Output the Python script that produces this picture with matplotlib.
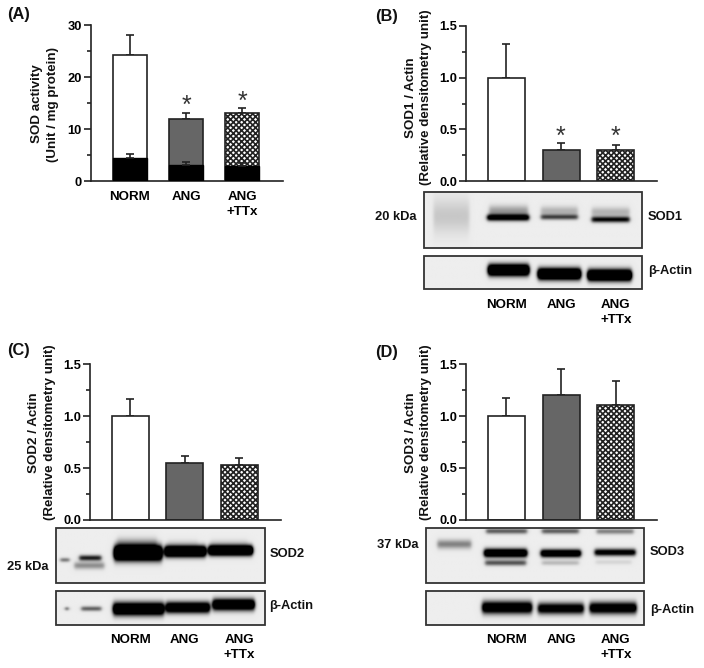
import numpy as np
import matplotlib
matplotlib.use("Agg")
import matplotlib.pyplot as plt
from matplotlib.patches import Rectangle
from matplotlib.ticker import MultipleLocator

plt.rcParams['font.family'] = ['Liberation Sans', 'DejaVu Sans']
plt.rcParams['font.weight'] = 'bold'
plt.rcParams['hatch.linewidth'] = 1.2

W, H = 704, 668
DARK = '#222222'

# ======================================
# DATA
# ======================================

groups = ['NORM', 'ANG', 'ANG\n+TTx']

sod_total = [24.3, 12.0, 13.0]
sod_total_top = [28.0, 13.0, 14.0]
sod_black = [4.5, 3.1, 2.9]
sod_black_top = [5.2, 3.6, 3.4]

sod1 = [1.0, 0.30, 0.30]
sod1_top = [1.32, 0.37, 0.35]
sod2 = [1.0, 0.55, 0.53]
sod2_top = [1.17, 0.62, 0.60]
sod3 = [1.0, 1.20, 1.11]
sod3_top = [1.17, 1.45, 1.34]

# blot bands, figure pixels: x0, x1, y, sigma, density
sod1_bands = [
    (433, 469, 216, 12, 0.16), (487, 529, 217.5, 2.3, 1.3), (489, 528, 211, 4, 0.35),
    (541, 578, 217, 1.9, 0.7), (541, 578, 211, 3.5, 0.25),
    (592, 630, 219.5, 2.1, 1.0), (592, 630, 212, 3.5, 0.25),
]
actin_b_bands = [
    (488, 529, 270, 4.0, 2.2), (538, 581, 274, 4.0, 2.2), (588, 632, 275.3, 4.0, 2.2),
]
sod2_bands = [
    (60, 69, 560, 1.5, 0.5), (79, 101, 558, 2.0, 0.9), (74, 104, 565.7, 2.6, 0.4),
    (114, 162, 553, 5.0, 2.6), (117, 157, 544, 4.5, 0.3),
    (165, 206, 551.3, 3.7, 2.4), (168, 198, 543, 3, 0.08),
    (209, 253, 550.3, 3.4, 2.4), (211, 248, 543, 3, 0.1),
]
actin_c_bands = [
    (65, 68, 608.7, 1.3, 0.7), (81, 101, 608.7, 1.7, 0.6),
    (113, 164, 609, 4.5, 1.9), (166, 210, 607.5, 3.9, 1.7), (213, 255, 604.5, 4.0, 1.8),
]
sod3_bands = [
    (437, 471, 544, 3.2, 0.45), (486, 527, 530.7, 2.0, 0.6), (542, 579, 530.7, 2.0, 0.6),
    (597, 634, 531, 2.0, 0.45),
    (484, 527, 553, 3.0, 1.7), (541, 581, 553.3, 2.7, 1.6), (595, 636, 552.3, 2.5, 1.2),
    (485, 526, 563, 2.0, 0.65), (542, 579, 563, 1.7, 0.22), (596, 632, 562.3, 1.7, 0.1),
]
actin_d_bands = [
    (482, 532, 607.5, 4.4, 1.5), (538, 584, 608.5, 4.0, 1.3), (590, 637, 608, 4.2, 1.4),
]


def px_axes(left, right, top, bottom):
    return fig.add_axes([left / W, 1 - bottom / H, (right - left) / W, (bottom - top) / H])


def draw_blot(left, right, top, bottom, bands):
    xs = np.arange(left, right + 1)
    ys = np.arange(top, bottom + 1)
    xx, yy = np.meshgrid(xs, ys)
    density = np.zeros(xx.shape)
    for x0, x1, yc, sigma, dens in bands:
        along = 0.5 * (np.tanh((xx - x0) / 2.0) - np.tanh((xx - x1) / 2.0))
        density += dens * along * np.exp(-((yy - yc) / sigma) ** 2 / 2)
    img = 0.93 * (1 - np.clip(density, 0, 1))
    bg.imshow(img, cmap='gray', vmin=0, vmax=1, extent=(left, right, bottom, top),
              aspect='auto', interpolation='bilinear')
    bg.add_patch(Rectangle((left, top), right - left, bottom - top, fill=False,
                           edgecolor='#333333', linewidth=1.3))


def draw_panel(box, values, tops, ymax, major, minor, centers, width, label_pad):
    ax = px_axes(*box)
    ax.patch.set_visible(False)
    spacing = centers[1] - centers[0]
    x = np.arange(3)
    ax.set_xlim((box[0] - centers[0]) / spacing, (box[1] - centers[0]) / spacing)
    ax.set_ylim(0, ymax)
    fills = ['white', '#666666', 'white']
    hatches = [None, None, 'xxxxxx']
    for i in x:
        ax.errorbar(i, values[i], yerr=[[0], [tops[i] - values[i]]], color=DARK,
                    elinewidth=1.2, capsize=2.7, capthick=1.2, zorder=1)
    ax.bar(x, values, width=width / spacing, color=fills, edgecolor=DARK, linewidth=1.2,
           hatch=hatches, zorder=2)
    for side in ['top', 'right']:
        ax.spines[side].set_visible(False)
    for side in ['left', 'bottom']:
        ax.spines[side].set_linewidth(1.2)
        ax.spines[side].set_color(DARK)
    ax.yaxis.set_major_locator(MultipleLocator(major))
    ax.yaxis.set_minor_locator(MultipleLocator(minor))
    ax.tick_params(axis='y', which='major', length=4.8, width=1.2, color=DARK, labelsize=9.3, pad=1.5)
    ax.tick_params(axis='y', which='minor', length=3.2, width=1.2, color=DARK)
    ax.set_xticks(x, groups, fontsize=9.6, linespacing=1.33)
    ax.tick_params(axis='x', length=0, pad=label_pad)
    return ax


fig = plt.figure(figsize=(W / 100, H / 100), dpi=100)
bg = fig.add_axes([0, 0, 1, 1])
bg.axis('off')

# ======================================
# BLOTS
# ======================================

draw_blot(424, 642, 192, 248, sod1_bands)
draw_blot(424, 642, 256, 289, actin_b_bands)
draw_blot(56, 265, 528, 583, sod2_bands)
draw_blot(56, 265, 591, 625, actin_c_bands)
draw_blot(426, 644, 528, 583, sod3_bands)
draw_blot(426, 644, 591, 625, actin_d_bands)

bg.set_xlim(0, W)
bg.set_ylim(H, 0)

# ======================================
# BAR PANELS
# ======================================

ax_a = draw_panel((90.7, 282.7, 25, 181), sod_total, sod_total_top, 30, 10, 5,
                  [129.7, 186, 242.7], 34, 7.5)
ax_a.bar(np.arange(3), sod_black, width=34 / 56.5, color='black', edgecolor='black',
         linewidth=1.0, zorder=3)
for i in range(3):
    ax_a.errorbar(i, sod_black[i], yerr=[[0], [sod_black_top[i] - sod_black[i]]], color=DARK,
                  elinewidth=1.2, capsize=2.7, capthick=1.2, zorder=4)

draw_panel((465.7, 657.3, 25.7, 181.3), sod1, sod1_top, 1.5, 0.5, 0.25,
           [506.2, 561, 616], 37, 85)
draw_panel((90, 281, 364.3, 520), sod2, sod2_top, 1.5, 0.5, 0.25,
           [130.2, 184.8, 239.6], 37, 82)
draw_panel((465.7, 657.3, 364.3, 519.7), sod3, sod3_top, 1.5, 0.5, 0.25,
           [506.2, 561, 616], 37, 82)

# ======================================
# TEXT
# ======================================

panel_letters = [('(A)', 7, 15), ('(B)', 375, 17), ('(C)', 7, 350), ('(D)', 375, 352)]
for txt, tx, ty in panel_letters:
    bg.text(tx, ty, txt, fontsize=11.8, ha='left', va='center', color='#111111')

y_titles = [
    ('SOD activity\n(Unit / mg protein)', 45, 104),
    ('SOD1 / Actin\n(Relative densitometry unit)', 418.5, 97.5),
    ('SOD2 / Actin\n(Relative densitometry unit)', 42, 432.5),
    ('SOD3 / Actin\n(Relative densitometry unit)', 418.5, 432.5),
]
for txt, tx, ty in y_titles:
    bg.text(tx, ty, txt, fontsize=9.6, rotation=90, ha='center', va='center',
            multialignment='center', linespacing=1.35, color='#111111')

blot_labels = [
    ('20 kDa', 375, 216.7), ('SOD1', 648, 216.7), ('\u03b2-Actin', 648, 270.7),
    ('25 kDa', 7.3, 567.3), ('SOD2', 270, 554), ('\u03b2-Actin', 269, 605.7),
    ('37 kDa', 377.3, 545), ('SOD3', 650, 551.7), ('\u03b2-Actin', 650, 610),
]
for txt, tx, ty in blot_labels:
    bg.text(tx, ty, txt, fontsize=9.3, ha='left', va='center', color='#111111')

stars = [(186.7, 100), (242, 96.7), (560.7, 131.7), (615.3, 131.7)]
for tx, ty in stars:
    bg.text(tx, ty + 5.5, '*', fontsize=18, fontweight='normal', ha='center', va='center',
            color='#333333')

fig.savefig('out.png', dpi=100)
